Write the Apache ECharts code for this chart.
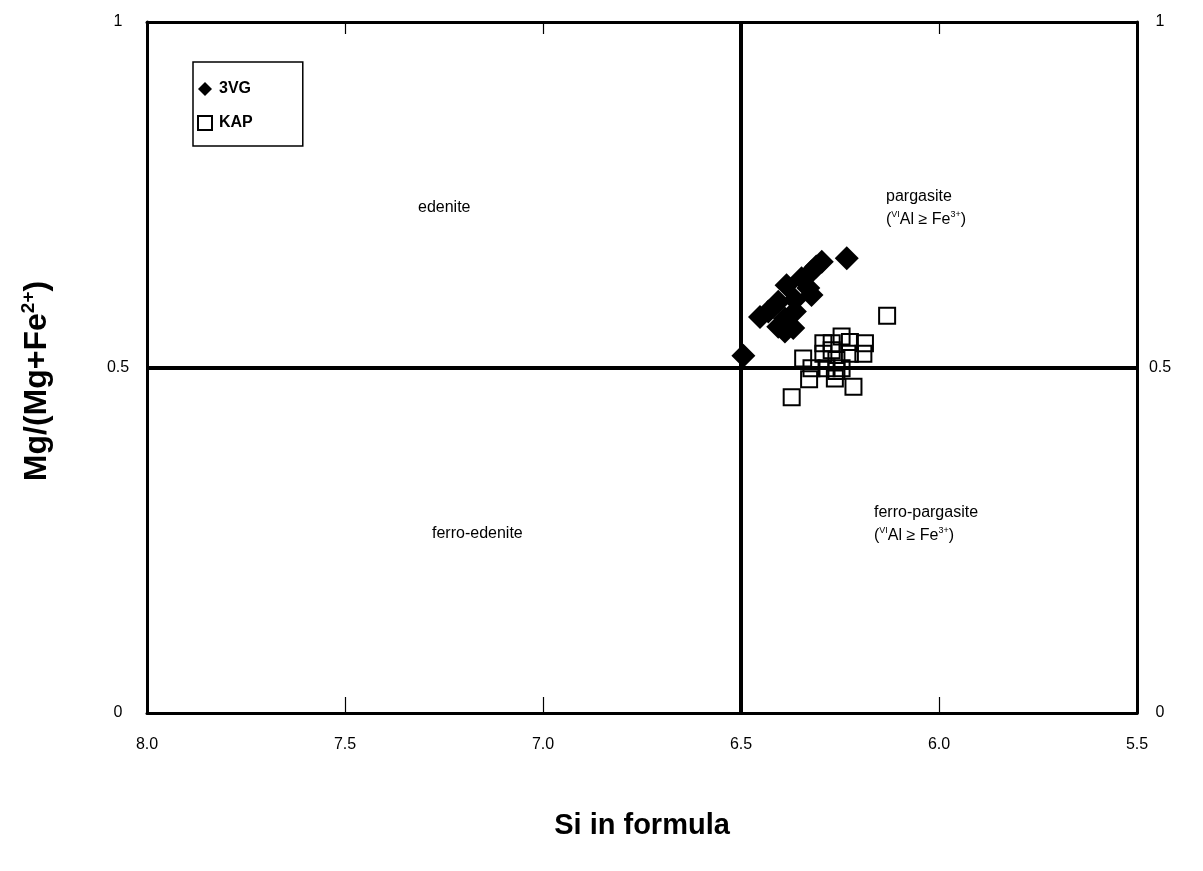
<!DOCTYPE html>
<html><head><meta charset="utf-8">
<script src="https://cdn.jsdelivr.net/npm/echarts@6/dist/echarts.min.js"></script>
<style>html,body{margin:0;padding:0;background:#fff}#c{width:1203px;height:871px}</style>
</head><body><div id="c"></div>
<script>
const xTicks = [8.0, 7.5, 7.0, 6.5, 6.0, 5.5];
const yTicks = [0, 0.5, 1];
const seriesNames = ['3VG', 'KAP'];
const vg3 = [
  [6.494, 0.517], [6.233, 0.658], [6.296, 0.653], [6.310, 0.646], [6.322, 0.639],
  [6.347, 0.629], [6.385, 0.619], [6.330, 0.615], [6.322, 0.605], [6.364, 0.598],
  [6.406, 0.595], [6.364, 0.581], [6.431, 0.581], [6.452, 0.573], [6.389, 0.571],
  [6.406, 0.559], [6.368, 0.557], [6.389, 0.552]
];
const kap = [
  [6.131, 0.575], [6.372, 0.457], [6.328, 0.483], [6.343, 0.513], [6.322, 0.499],
  [6.292, 0.535], [6.246, 0.545], [6.271, 0.535], [6.225, 0.537], [6.187, 0.535],
  [6.191, 0.520], [6.216, 0.472], [6.263, 0.484], [6.284, 0.499], [6.246, 0.499],
  [6.259, 0.511], [6.225, 0.520], [6.292, 0.520], [6.271, 0.525], [6.259, 0.495]
];
const dividers = { si: 6.5, mg: 0.5 };

const chart = echarts.init(document.getElementById('c'));
const F = 'Liberation Sans, Arial, sans-serif';
const axisLine = { show: true, onZero: false, lineStyle: { color: '#000', width: 3 } };
const tick = { show: true, inside: true, length: 16, lineStyle: { color: '#000', width: 1.2 } };
const rich = {
  n: { fontFamily: F, fontSize: 16, color: '#000', lineHeight: 23 },
  s: { fontFamily: F, fontSize: 9, color: '#000', lineHeight: 23, verticalAlign: 'top', padding: [2, 0, 0, 0] }
};
chart.setOption({
  animation: false,
  backgroundColor: '#fff',
  grid: { left: 147, right: 66, top: 22, bottom: 158 },
  legend: {
    left: 193, top: 62, orient: 'vertical',
    data: [{ name: seriesNames[0], icon: 'diamond' }, { name: seriesNames[1], icon: 'rect' }],
    itemWidth: 14, itemHeight: 14, itemGap: 18,
    padding: [19, 50, 15, 4],
    borderColor: '#000', borderWidth: 1.5,
    textStyle: { fontFamily: F, fontSize: 16, fontWeight: 'bold', color: '#000', padding: [0, 0, 0, 2] }
  },
  xAxis: [{
    type: 'value', inverse: true, min: 5.5, max: 8, interval: 0.5, position: 'bottom',
    axisLine, axisTick: tick, splitLine: { show: false },
    axisLabel: { formatter: v => v.toFixed(1), fontFamily: F, fontSize: 16, color: '#000', margin: 24 },
    name: 'Si in formula', nameLocation: 'middle', nameGap: 98,
    nameTextStyle: { fontFamily: F, fontSize: 29, fontWeight: 'bold', color: '#000' }
  }, {
    type: 'value', inverse: true, min: 5.5, max: 8, interval: 0.5, position: 'top',
    axisLine, axisTick: { ...tick, length: 12 }, splitLine: { show: false }, axisLabel: { show: false }
  }],
  yAxis: [{
    type: 'value', min: 0, max: 1, interval: 0.5, position: 'left',
    axisLine, axisTick: { show: false }, splitLine: { show: false },
    axisLabel: { fontFamily: F, fontSize: 16, color: '#000', margin: 29, align: 'center' }
  }, {
    type: 'value', min: 0, max: 1, interval: 0.5, position: 'right',
    axisLine, axisTick: { show: false }, splitLine: { show: false },
    axisLabel: { fontFamily: F, fontSize: 16, color: '#000', margin: 23, align: 'center' }
  }],
  series: [{
    name: seriesNames[0], type: 'scatter', data: vg3, symbol: 'diamond', symbolSize: 24,
    itemStyle: { color: '#000', opacity: 1 }, z: 5,
    markLine: {
      silent: true, symbol: 'none', label: { show: false },
      lineStyle: { color: '#000', width: 4, type: 'solid' },
      data: [{ xAxis: dividers.si }, { yAxis: dividers.mg }]
    }
  }, {
    name: seriesNames[1], type: 'scatter', data: kap, symbol: 'rect', symbolSize: 16,
    itemStyle: { color: 'rgba(255,255,255,0)', borderColor: '#000', borderWidth: 2, opacity: 1 }, z: 4
  }],
  graphic: [
    { type: 'text', x: 37, y: 381, rotation: Math.PI / 2,
      style: { align: 'center', verticalAlign: 'middle',
        text: '{a|Mg/(Mg+Fe}{b|2+}{a|)}',
        rich: {
          a: { fontFamily: F, fontSize: 32, fontWeight: 'bold', fill: '#000', lineHeight: 36 },
          b: { fontFamily: F, fontSize: 19, fontWeight: 'bold', fill: '#000', lineHeight: 36, verticalAlign: 'top' }
        } } },
    { type: 'text', left: 418, top: 200, style: { text: 'edenite', font: '16px ' + F, fill: '#000' } },
    { type: 'text', left: 432, top: 526, style: { text: 'ferro-edenite', font: '16px ' + F, fill: '#000' } },
    { type: 'text', left: 886, top: 189, style: { rich, text: '{n|pargasite}\n{n|(}{s|VI}{n|Al ≥ Fe}{s|3+}{n|)}' } },
    { type: 'text', left: 874, top: 505, style: { rich, text: '{n|ferro-pargasite}\n{n|(}{s|VI}{n|Al ≥ Fe}{s|3+}{n|)}' } }
  ]
});
</script></body></html>
